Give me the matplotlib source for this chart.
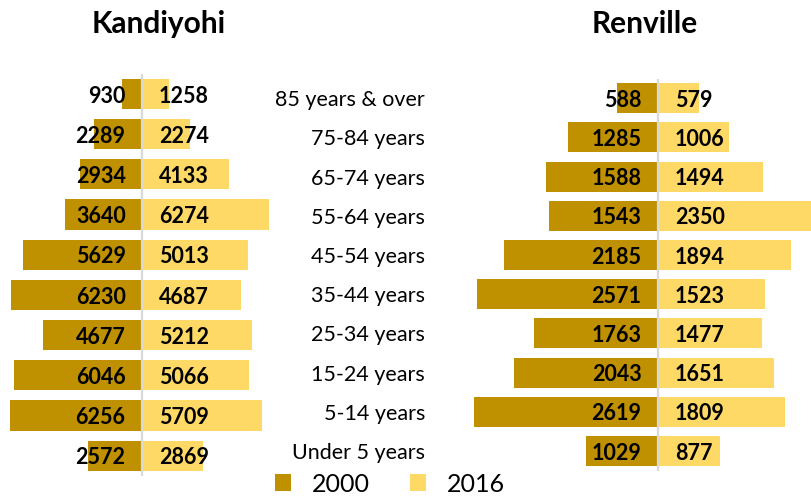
import matplotlib
matplotlib.use("Agg")
import matplotlib.pyplot as plt
from matplotlib.patches import Patch

plt.rcParams['font.family'] = ['Lato', 'DejaVu Sans']

categories = ["Under 5 years", "5-14 years", "15-24 years", "25-34 years", "35-44 years",
              "45-54 years", "55-64 years", "65-74 years", "75-84 years", "85 years & over"]
kandiyohi_2000 = [2572, 6256, 6046, 4677, 6230, 5629, 3640, 2934, 2289, 930]
kandiyohi_2016 = [2869, 5709, 5066, 5212, 4687, 5013, 6274, 4133, 2274, 1258]
renville_2000 = [1029, 2619, 2043, 1763, 2571, 2185, 1543, 1588, 1285, 588]
renville_2016 = [877, 1809, 1651, 1477, 1523, 1894, 2350, 1494, 1006, 579]
series_labels = ["2000", "2016"]

c2000 = "#BF9000"
c2016 = "#FFD966"
W, H = 812, 496

fig = plt.figure(figsize=(W / 100, H / 100), dpi=100)

def px_axes(x0, x1, y0, y1):
    return fig.add_axes([x0 / W, 1 - y1 / H, (x1 - x0) / W, (y1 - y0) / H])

def draw(ax, v2000, v2016, xlim, height):
    y = list(range(len(categories)))
    neg = [-v for v in v2000]
    b1 = ax.barh(y, neg, height=height, color=c2000, edgecolor="none")
    b2 = ax.barh(y, v2016, height=height, color=c2016, edgecolor="none")
    ax.set_xlim(*xlim)
    ax.set_ylim(-0.5, len(categories) - 0.5)
    ax.axvline(0, color="#D9D9D9", lw=1.6)
    for yi, v in zip(y, v2000):
        ax.annotate(str(v), xy=(0, yi), xytext=(-11.8, -1.5), textcoords="offset points",
                    ha="right", va="center", fontsize=15.5, fontweight="bold", color="black",
                    annotation_clip=False)
    for yi, v in zip(y, v2016):
        ax.annotate(str(v), xy=(0, yi), xytext=(12, -1.5), textcoords="offset points",
                    ha="left", va="center", fontsize=15.5, fontweight="bold", color="black",
                    annotation_clip=False)
    for s in ax.spines.values():
        s.set_visible(False)
    ax.set_xticks([])
    return b1, b2

# Left chart (Kandiyohi)
axL = px_axes(0, 268.7, 73.9, 475.8)
draw(axL, kandiyohi_2000, kandiyohi_2016, (-142 / 0.0211, 126.7 / 0.0211), 0.75)
axL.set_yticks([])

# Right chart (Renville)
axR = px_axes(460, 812, 78.7, 470.6)
draw(axR, renville_2000, renville_2016, (-198 / 0.0704, 154 / 0.0704), 0.765)
axR.set_yticks(range(len(categories)))
axR.set_yticklabels(categories, fontsize=15.5)
axR.tick_params(axis="y", length=0, pad=25.2)

fig.text(158.5 / W, 1 - 24 / H, "Kandiyohi", ha="center", va="center",
         fontsize=21.5, fontweight="bold")
fig.text(645 / W, 1 - 24 / H, "Renville", ha="center", va="center",
         fontsize=21.5, fontweight="bold")

handles = [Patch(facecolor=c2000, edgecolor="none"), Patch(facecolor=c2016, edgecolor="none")]
fig.legend(handles, series_labels, loc="center", bbox_to_anchor=(390 / W, 1 - 484 / H),
           ncol=2, frameon=False, fontsize=18, handlelength=0.64, handleheight=0.64,
           handletextpad=0.85, columnspacing=1.6, borderpad=0, borderaxespad=0)

fig.savefig("out.png", dpi=100)
